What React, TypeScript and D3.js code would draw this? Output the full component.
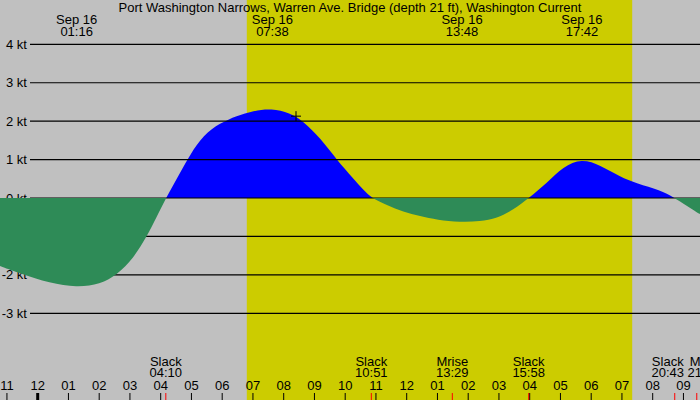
import * as d3 from 'd3'

// Tidal current, Sep 16 (hours from midnight, knots; + flood, - ebb)
const flowHours = [
  -1.23, -0.58, 0.4, 1.27, 2.03, 2.59, 3.11, 3.55, 3.87, 4.17,
  4.68, 4.95, 5.39, 5.93, 6.47, 7.01, 7.6, 8.2, 8.64, 9.2, 9.72, 10.26, 10.59, 10.85,
  11.35, 11.89, 12.43, 13.0, 13.73, 14.39, 14.93, 15.47, 15.97,
  16.55, 17.09, 17.69, 18.29, 18.94, 19.48, 20.24, 20.72, 21.32, 21.54,
]
const flowKnots = [
  -1.77, -1.96, -2.22, -2.33, -2.25, -1.99, -1.57, -1.0, -0.49, 0,
  0.73, 1.12, 1.64, 1.95, 2.14, 2.27, 2.33, 2.22, 2.0, 1.55, 1.0, 0.51, 0.21, 0,
  -0.18, -0.36, -0.47, -0.57, -0.63, -0.61, -0.53, -0.31, 0,
  0.38, 0.82, 1.02, 0.86, 0.55, 0.38, 0.21, 0, -0.31, -0.42,
]

const title = 'Port Washington Narrows, Warren Ave. Bridge (depth 21 ft), Washington Current'
const dateLabel = 'Sep 16'
const peakTimes = ['01:16', '07:38', '13:48', '17:42']

const eventNames = ['Slack', 'Slack', 'Mrise', 'Slack', 'Slack', 'Mset']
const eventTimes = ['04:10', '10:51', '13:29', '15:58', '20:43', '21:26']

const sunrise = '06:48'
const sunset = '19:20'

const nowTime = '08:24'
const nowKnots = 2.13

const ktTicks = [4, 3, 2, 1, 0, -1, -2, -3]
const hourTicks = d3.range(-1, 22)
const hourLabels = [
  '11', '12', '01', '02', '03', '04', '05', '06', '07', '08', '09', '10',
  '11', '12', '01', '02', '03', '04', '05', '06', '07', '08', '09',
]

const W = 700
const H = 400
const FONT = '"Liberation Sans", Arial, sans-serif'

const toHours = (s: string) => {
  const [h, m] = s.split(':').map(Number)
  return h + m / 60
}

export default function App() {
  const x = d3.scaleLinear().domain([0, 21]).range([37.7, 683.45])
  const y = d3.scaleLinear().domain([-3, 4]).range([313.3, 44.3])

  const pts = flowHours.map((h, i) => ({ h, v: flowKnots[i] }))

  // one smooth curve, split into flood / ebb by clipping at 0 kt
  const flow = d3
    .area<{ h: number; v: number }>()
    .x((d) => x(d.h))
    .y0(y(0))
    .y1((d) => y(d.v))
    .curve(d3.curveBasis)
  const flowPath = flow(pts) ?? ''

  // spread event labels that would overlap
  const evX = eventTimes.map((t) => x(toHours(t)))
  const labX = evX.slice()
  for (let i = 1; i < labX.length; i++) {
    const gap = labX[i] - labX[i - 1]
    if (gap < 36) {
      const push = (36 - gap) / 2
      labX[i - 1] -= push
      labX[i] += push
    }
  }

  const nx = x(toHours(nowTime))
  const ny = y(nowKnots)

  return (
    <svg
      width={W}
      height={H}
      style={{ position: 'absolute', left: 0, top: 0 }}
      fontFamily={FONT}
      fontSize={13}
    >
      <defs>
        <clipPath id="above">
          <rect x={0} y={0} width={W} height={y(0)} />
        </clipPath>
        <clipPath id="below">
          <rect x={0} y={y(0)} width={W} height={H - y(0)} />
        </clipPath>
      </defs>

      <rect x={0} y={0} width={W} height={H} fill="#c0c0c0" />
      <rect
        x={x(toHours(sunrise))}
        y={0}
        width={x(toHours(sunset)) - x(toHours(sunrise))}
        height={H}
        fill="#cccc00"
      />

      <path d={flowPath} fill="#0000ff" clipPath="url(#above)" />

      {ktTicks.map((k) => (
        <g key={k}>
          <line x1={30} x2={W} y1={y(k)} y2={y(k)} stroke="#000" strokeWidth={1.2} />
          <text x={27} y={y(k)} dy="0.35em" textAnchor="end" fill="#000">
            {`${k} kt`}
          </text>
        </g>
      ))}

      <path d={flowPath} fill="#2e8b57" clipPath="url(#below)" />

      <text x={W / 2} y={12} textAnchor="middle" fill="#000">
        {title}
      </text>
      {peakTimes.map((t) => (
        <g key={t}>
          <text x={x(toHours(t))} y={24} textAnchor="middle" fill="#000">
            {dateLabel}
          </text>
          <text x={x(toHours(t))} y={36} textAnchor="middle" fill="#000">
            {t}
          </text>
        </g>
      ))}

      <g stroke="#000" strokeWidth={1}>
        <line x1={nx - 5} x2={nx + 5} y1={ny} y2={ny} />
        <line x1={nx} x2={nx} y1={ny - 5} y2={ny + 5} />
      </g>

      {eventNames.map((n, i) => (
        <g key={i}>
          <text x={labX[i]} y={366} textAnchor="middle" fill="#000">
            {n}
          </text>
          <text x={labX[i]} y={377} textAnchor="middle" fill="#000">
            {eventTimes[i]}
          </text>
        </g>
      ))}

      {hourTicks.map((h, i) => (
        <g key={h}>
          <text x={x(h)} y={390} textAnchor="middle" fill="#000">
            {hourLabels[i]}
          </text>
          <line
            x1={x(h)}
            x2={x(h)}
            y1={393}
            y2={H}
            stroke="#000"
            strokeWidth={h === 0 ? 3 : 1}
          />
        </g>
      ))}
      {evX.map((ex, i) => (
        <line key={i} x1={ex} x2={ex} y1={393} y2={H} stroke="#ff0000" strokeWidth={1} />
      ))}
    </svg>
  )
}
